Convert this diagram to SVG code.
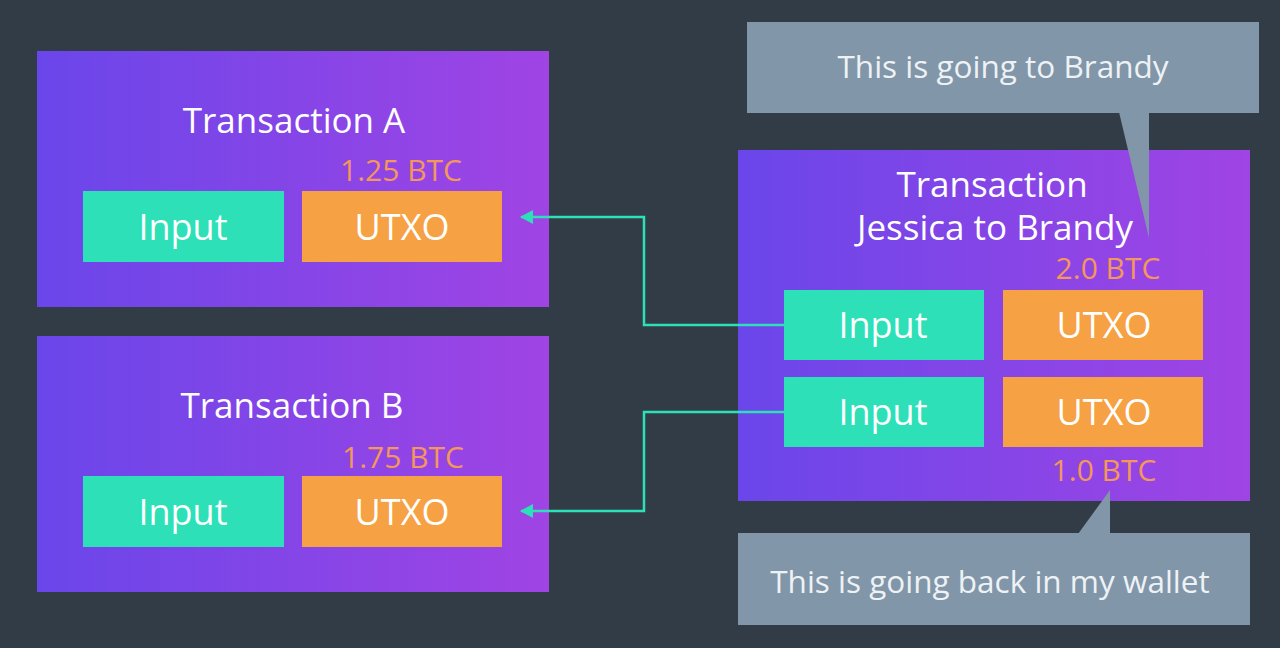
<svg xmlns="http://www.w3.org/2000/svg" width="1280" height="648" viewBox="0 0 1280 648">
<defs>
<linearGradient id="pg" x1="0" y1="0" x2="1" y2="0">
<stop offset="0" stop-color="#6a46ea"/>
<stop offset="1" stop-color="#a044e4"/>
</linearGradient>
<marker id="ah" viewBox="0 0 13 14" refX="12" refY="7" markerWidth="13" markerHeight="14" markerUnits="userSpaceOnUse" orient="auto">
<path d="M0,0 L13,7 L0,14 z" fill="#2de0b8"/>
</marker>
<style>
.tx{fill:url(#pg)}
.in{fill:#2de0b8}
.ut{fill:#f6a144}
.call{fill:#8196a8}
text{font-family:"Open Sans","Noto Sans","Liberation Sans",sans-serif;text-anchor:middle}
.lbl{fill:#ffffff;font-size:36px}
.ttl{fill:#ffffff;font-size:35px}
.btc{fill:#f4975a;font-size:30px}
.ct{fill:#eef2f5;font-size:31.5px}
.con{fill:none;stroke:#2de0b8;stroke-width:2.5}
</style>
</defs>
<rect width="1280" height="648" fill="#313c47"/>

<g id="transaction-a">
<rect class="tx" x="37" y="51" width="512" height="256"/>
<text class="ttl" x="294" y="133">Transaction A</text>
<text class="btc" x="401" y="181">1.25 BTC</text>
<rect class="in" x="83" y="191" width="201" height="71"/>
<text class="lbl" x="183" y="240">Input</text>
<rect class="ut" x="302" y="191" width="200" height="71"/>
<text class="lbl" x="402" y="240">UTXO</text>
</g>

<g id="transaction-b">
<rect class="tx" x="37" y="336" width="512" height="256"/>
<text class="ttl" x="292" y="418">Transaction B</text>
<text class="btc" x="403" y="468">1.75 BTC</text>
<rect class="in" x="83" y="476" width="201" height="71"/>
<text class="lbl" x="183" y="525">Input</text>
<rect class="ut" x="302" y="476" width="200" height="71"/>
<text class="lbl" x="402" y="525">UTXO</text>
</g>

<g id="transaction-jb">
<rect class="tx" x="738" y="150" width="512" height="351"/>
<text class="ttl" x="992" y="197">Transaction</text>
<text class="ttl" x="995" y="240">Jessica to Brandy</text>
<text class="btc" x="1108" y="279">2.0 BTC</text>
<rect class="in" x="784" y="290" width="200" height="70"/>
<text class="lbl" x="883" y="338">Input</text>
<rect class="ut" x="1003" y="290" width="200" height="70"/>
<text class="lbl" x="1104" y="338">UTXO</text>
<rect class="in" x="784" y="377" width="200" height="70"/>
<text class="lbl" x="883" y="425">Input</text>
<rect class="ut" x="1003" y="377" width="200" height="70"/>
<text class="lbl" x="1104" y="425">UTXO</text>
<text class="btc" x="1104" y="481">1.0 BTC</text>
</g>

<g id="callout-brandy">
<rect class="call" x="747" y="22" width="512" height="91"/>
<polygon class="call" points="1119,112 1149,112 1149,238"/>
<text class="ct" x="1003" y="78">This is going to Brandy</text>
</g>

<g id="callout-wallet">
<rect class="call" x="738" y="533" width="512" height="92"/>
<polygon class="call" points="1078,534 1110,534 1110,490"/>
<text class="ct" x="990" y="593">This is going back in my wallet</text>
</g>

<g id="connectors">
<path class="con" d="M784,325 H644 V217 H521" marker-end="url(#ah)"/>
<path class="con" d="M784,412 H644 V511 H521" marker-end="url(#ah)"/>
</g>
</svg>
